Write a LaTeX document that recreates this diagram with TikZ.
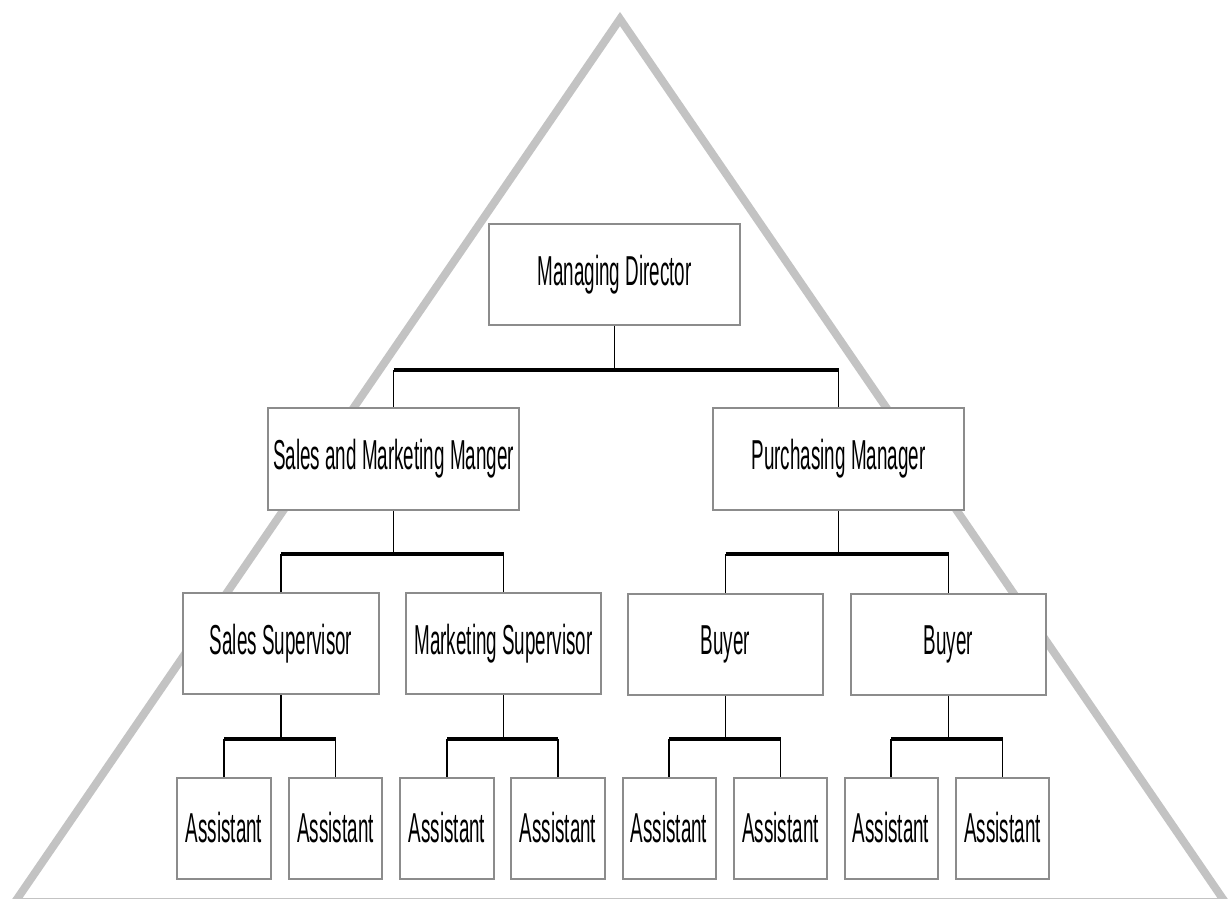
\documentclass[tikz,border=0pt]{standalone}
\usepackage{fontspec}
\setmainfont{Liberation Sans}[FakeStretch=0.45]
\begin{document}
\begin{tikzpicture}[x=0.75pt,y=-0.75pt,
  box/.style={draw=boxgray,line width=1.5pt,fill=white,inner sep=0pt,
    font=\fontsize{31.4}{36}\selectfont,align=center},
  bw/.style={minimum width=#1*0.75pt},
  bh/.style={minimum height=#1*0.75pt},
  vline/.style={draw=black,line width=1pt},
  hbar/.style={draw=black,line width=2.5pt},
  tri/.style={draw=trigray,line width=6pt,line join=miter}]
\definecolor{boxgray}{HTML}{8C8C8C}
\definecolor{trigray}{HTML}{C3C3C3}
\useasboundingbox (0,0) rectangle (1231,899);
\begin{scope}
\clip (0,0) rectangle (1231,899);
\draw[tri] (620,19) -- (1225,902) -- (15,902) -- cycle;
\end{scope}
% bar coordinates
\coordinate (bar1) at (0,370);
\coordinate (bar2) at (0,554);
\coordinate (bar3) at (0,739);
% nodes
\node[box,bw=251,bh=101] (md) at (614.5,274.5) {Managing Director};
\node[box,bw=251,bh=102] (smm) at (393.5,459) {Sales and Marketing Manger};
\node[box,bw=251,bh=102] (pm) at (838.5,459) {Purchasing Manager};
\node[box,bw=196,bh=101] (ss) at (281,643.5) {Sales Supervisor};
\node[box,bw=195,bh=101] (ms) at (503.5,643.5) {Marketing Supervisor};
\node[box,bw=195,bh=101] (b1) at (725.5,644) {Buyer};
\node[box,bw=195,bh=101] (b2) at (948.5,644) {Buyer};
\node[box,bw=94,bh=101] (a1) at (224,828) {Assistant};
\node[box,bw=93,bh=101] (a2) at (335.5,828) {Assistant};
\node[box,bw=94,bh=101] (a3) at (447,828) {Assistant};
\node[box,bw=94,bh=101] (a4) at (558,828) {Assistant};
\node[box,bw=93,bh=101] (a5) at (669,828) {Assistant};
\node[box,bw=93,bh=101] (a6) at (780.5,828) {Assistant};
\node[box,bw=93,bh=101] (a7) at (891,828) {Assistant};
\node[box,bw=93,bh=101] (a8) at (1002.5,828) {Assistant};
% connectors level 1
\draw[vline] (md.south) -- (md.south |- bar1);
\draw[hbar] (smm.north |- bar1) -- (pm.north |- bar1);
\draw[vline] (smm.north |- bar1) -- (smm.north);
\draw[vline] (pm.north |- bar1) -- (pm.north);
% level 2
\foreach \p/\l/\r in {smm/ss/ms, pm/b1/b2}{
  \draw[vline] (\p.south) -- (\p.south |- bar2);
  \draw[hbar] (\l.north |- bar2) -- (\r.north |- bar2);
  \draw[vline] (\l.north |- bar2) -- (\l.north);
  \draw[vline] (\r.north |- bar2) -- (\r.north);
}
% level 3
\foreach \p/\l/\r in {ss/a1/a2, ms/a3/a4, b1/a5/a6, b2/a7/a8}{
  \draw[vline] (\p.south) -- (\p.south |- bar3);
  \draw[hbar] (\l.north |- bar3) -- (\r.north |- bar3);
  \draw[vline] (\l.north |- bar3) -- (\l.north);
  \draw[vline] (\r.north |- bar3) -- (\r.north);
}
\end{tikzpicture}
\end{document}
